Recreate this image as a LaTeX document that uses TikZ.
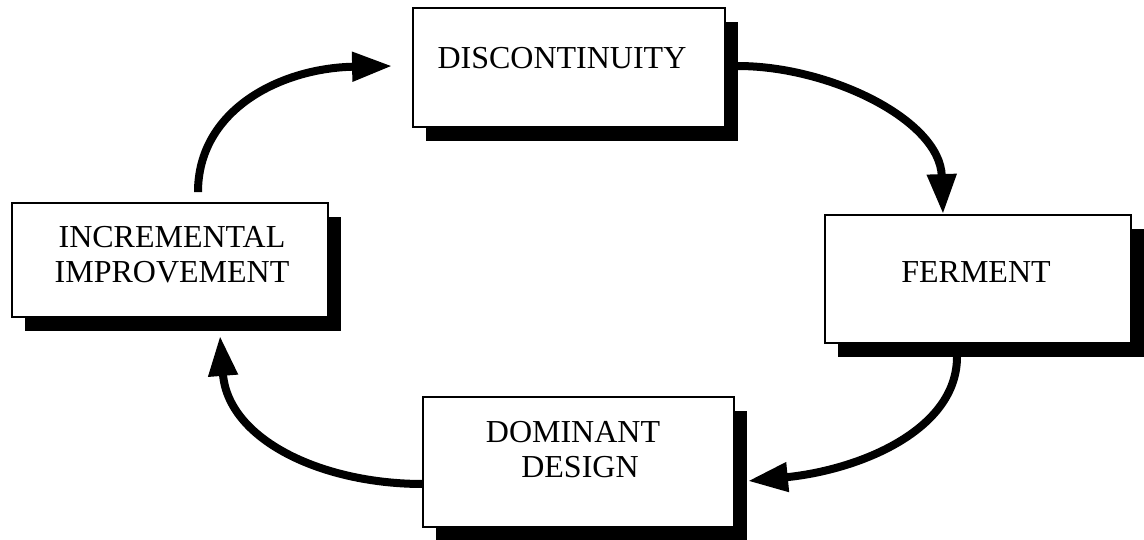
\documentclass[tikz,border=0pt]{standalone}
\usepackage{fontspec}
\setmainfont{Liberation Serif}
\usetikzlibrary{arrows.meta,shadows}
\begin{document}
\begin{tikzpicture}[x=1pt,y=-1pt,
  stage/.style={draw,line width=1.8pt,fill=white,inner sep=0pt,
    drop shadow={shadow xshift=13pt,shadow yshift=-14pt,opacity=1,fill=black}},
  lbl/.style={anchor=base,inner sep=0pt,font=\fontsize{32}{36}\selectfont},
  flow/.style={line width=8pt,-{Triangle[length=40pt,width=28pt]}}]
\useasboundingbox (0,0) rectangle (1144,539);

% the four stages of the cycle
\node[stage,minimum width=312pt,minimum height=119pt] (dis) at (569,67.5) {};
\node[stage,minimum width=306pt,minimum height=128pt] (fer) at (978,279) {};
\node[stage,minimum width=311pt,minimum height=130pt] (dom) at (578.5,462) {};
\node[stage,minimum width=316pt,minimum height=114pt] (inc) at (170,260) {};

% stage titles
\node[lbl] (t-dis) at (562,68) {DISCONTINUITY};
\node[lbl] (t-fer) at (976,282) {FERMENT};
\node[lbl] (t-dom1) at (573,442) {DOMINANT};
\node[lbl] (t-dom2) at (580,477) {DESIGN};
\node[lbl] (t-inc1) at (172,247) {INCREMENTAL};
\node[lbl] (t-inc2) at (172,282) {IMPROVEMENT};

% curved arrows running clockwise
\draw[flow] ([shift={(28,-10)}]inc.north)
  .. controls +(0,-82) and +(-112,2) .. ([shift={(-20,-1.5)}]dis.west);
\draw[flow] ([shift={(12,-1.5)}]dis.east)
  .. controls +(92,0) and +(-3,-94) .. ([shift={(-35,0)}]fer.north);
\draw[flow] ([shift={(-21,13)}]fer.south)
  .. controls +(0,73) and +(112,-11) .. ([shift={(13,19)}]dom.east);
\draw[flow] ([shift={(1,22)}]dom.west)
  .. controls +(-103,0) and +(8,103) .. ([shift={(50,18)}]inc.south);
\end{tikzpicture}
\end{document}
